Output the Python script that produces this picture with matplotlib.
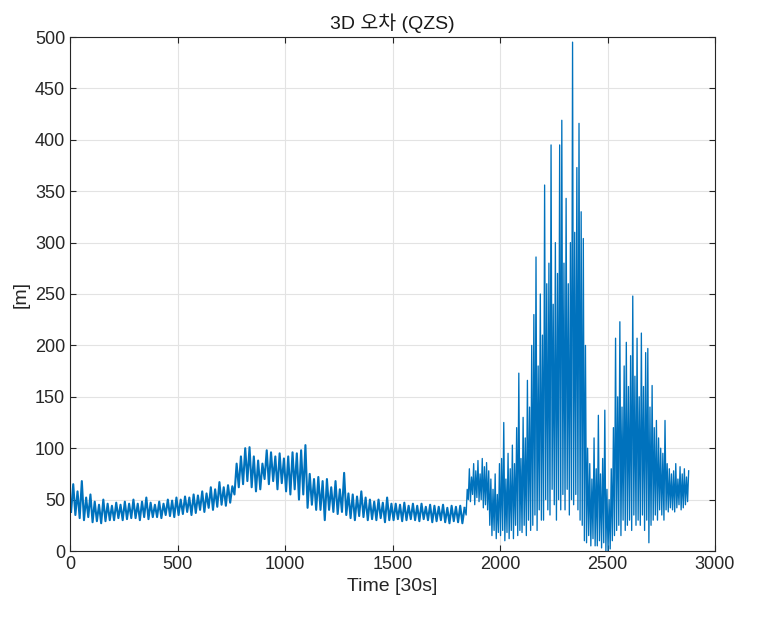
import numpy as np
import matplotlib
matplotlib.use("Agg")
import matplotlib.pyplot as plt

calm_start = 0
calm_step = 20
calm_hi = [65, 58, 68, 52, 55, 48, 45, 50, 46, 44, 47, 45, 48, 46, 50, 46, 48, 52, 47, 45,
           48, 46, 50, 49, 52, 50, 53, 52, 55, 54, 58, 56, 62, 60, 67, 62, 64, 63, 85, 92,
           100, 101, 92, 88, 85, 98, 96, 92, 95, 90, 92, 96, 95, 98, 103, 75, 70, 72, 68, 70,
           62, 68, 60, 76, 56, 55, 53, 58, 52, 50, 48, 50, 47, 52, 46, 46, 45, 47, 44, 46,
           44, 46, 43, 45, 44, 43, 45, 42, 44, 43, 44, 42]
calm_lo = [38, 35, 32, 30, 33, 28, 29, 27, 29, 30, 30, 32, 30, 31, 32, 32, 30, 33, 31, 33,
           33, 32, 35, 34, 33, 35, 36, 38, 35, 37, 40, 38, 42, 40, 43, 45, 44, 47, 55, 62,
           65, 68, 62, 58, 60, 70, 65, 68, 60, 66, 58, 55, 60, 50, 55, 42, 45, 40, 40, 30,
           40, 38, 36, 38, 35, 32, 30, 34, 33, 30, 31, 30, 32, 28, 30, 30, 31, 29, 30, 31,
           30, 29, 31, 30, 28, 29, 30, 28, 27, 29, 28, 27]

noisy_start = 1840
noisy_step = 10
noisy_hi = [60, 80, 72, 85, 78, 88, 75, 90, 82, 86, 78,
            70, 60, 75, 55, 85, 90, 125, 70, 95, 80, 103, 85, 120, 173, 90,
            130, 110, 166, 140, 200, 230, 286, 180, 250, 210, 356, 260, 280, 395, 240,
            300, 270, 395, 419, 280, 343, 260, 300, 495, 310, 373, 416, 330, 304, 200,
            100, 85, 70, 110, 80, 132, 75, 90, 137, 60, 50, 80, 120, 207, 150,
            223, 140, 180, 203, 160, 190, 248, 170, 207, 150, 212, 160, 193, 197, 140,
            161, 120, 127, 110, 100, 95, 127, 85, 80, 75, 78, 85, 70, 82, 75, 80, 72, 78]
noisy_lo = [35, 50, 48, 55, 45, 52, 48, 50, 42, 45, 40,
            25, 15, 20, 12, 18, 15, 20, 10, 18, 12, 20, 12, 25, 15, 20,
            18, 25, 15, 30, 20, 25, 35, 20, 40, 30, 30, 50, 40, 35, 60,
            45, 30, 50, 40, 55, 40, 60, 35, 50, 45, 55, 40, 30, 25, 10,
            8, 15, 5, 12, 5, 5, 10, 3, 8, 0, 0, 2, 10, 15, 20,
            25, 15, 30, 20, 25, 30, 20, 35, 25, 30, 25, 35, 20, 30, 8,
            25, 30, 35, 30, 40, 35, 30, 40, 38, 42, 40, 38, 42, 45, 40, 42, 45, 48]


def zigzag(start, step, lo, hi):
    t0 = start + step * np.arange(len(lo))
    t = np.column_stack([t0 + step * 0.25, t0 + step * 0.75]).ravel()
    v = np.column_stack([lo, hi]).ravel()
    return t, v


t1, v1 = zigzag(calm_start, calm_step, calm_lo, calm_hi)
t2, v2 = zigzag(noisy_start, noisy_step, noisy_lo, noisy_hi)
# join the two parts so the line is continuous
t2 = np.concatenate([t1[-1:], t2]); v2 = np.concatenate([v1[-1:], v2])

plt.rcParams["font.family"] = ["Liberation Sans", "Noto Sans CJK KR"]
fig = plt.figure(figsize=(7.59, 6.38), dpi=100)
ax = fig.add_axes([70 / 759, 87 / 638, 645 / 759, 514 / 638])
ax.plot(t1, v1, color="#0072BD", lw=1.5)
ax.plot(t2, v2, color="#0072BD", lw=0.95)
ax.set_xlim(0, 3000); ax.set_ylim(0, 500)
ax.set_xticks(np.arange(0, 3001, 500)); ax.set_yticks(np.arange(0, 501, 50))
ax.grid(True, color="#e3e3e3", lw=0.8)
ax.set_axisbelow(True)
ax.tick_params(direction="in", top=True, right=True, length=4, labelsize=13, colors="#262626")
for s in ax.spines.values():
    s.set_color("#262626"); s.set_linewidth(0.8)
ax.set_xlabel("Time [30s]", fontsize=14, color="#262626")
ax.set_ylabel("[m]", fontsize=14, color="#262626")
ax.set_title("3D 오차 (QZS)", fontsize=14, color="#1a1a1a")
fig.savefig("out.png", dpi=100)
